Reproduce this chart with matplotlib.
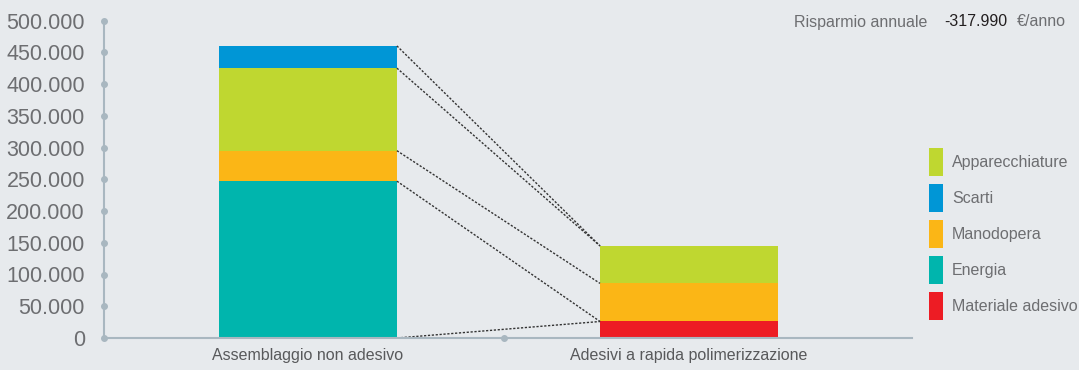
import numpy as np
import matplotlib.pyplot as plt
from matplotlib.patches import Patch
from matplotlib.ticker import FuncFormatter

# costs per category (EUR / year)
categories = ["Assemblaggio non adesivo", "Adesivi a rapida polimerizzazione"]
series = ["Materiale adesivo", "Energia", "Manodopera", "Apparecchiature", "Scarti"]
materiale = [0, 26000]
energia = [247000, 0]
manodopera = [48000, 60000]
apparecchiature = [130000, 59000]
scarti = [35000, 0]
legend_order = ["Apparecchiature", "Scarti", "Manodopera", "Energia", "Materiale adesivo"]
yticks = np.arange(0, 500001, 50000)
savings_text = "-317.990"

colors = {
    "Materiale adesivo": "#ed1c24",
    "Energia": "#00b5ad",
    "Manodopera": "#fbb616",
    "Apparecchiature": "#bfd730",
    "Scarti": "#0096d6",
}
bg = "#e7eaed"
axis_col = "#a9b7c0"
text_col = "#6d6e71"

plt.rcParams['font.family'] = ['Liberation Sans', 'DejaVu Sans']

fig = plt.figure(figsize=(10.79, 3.70), dpi=100, facecolor=bg)
ax = fig.add_axes([104 / 1079, 32 / 370, 808 / 1079, 317.5 / 370], facecolor=bg)

x = np.arange(len(categories))
width = 0.467
values = {"Materiale adesivo": materiale, "Energia": energia, "Manodopera": manodopera,
          "Apparecchiature": apparecchiature, "Scarti": scarti}
bottom = np.zeros(len(categories))
for name in series:
    v = np.array(values[name], dtype=float)
    ax.bar(x, v, width, bottom=bottom, color=colors[name], linewidth=0)
    bottom = bottom + v

# dotted connectors between the stacks
left_x = x[0] + width / 2
right_x = x[1] - width / 2
cum1 = np.cumsum([energia[0], manodopera[0], apparecchiature[0], scarti[0]])
cum2 = np.cumsum([materiale[1], manodopera[1], apparecchiature[1]])
pairs = [(0, cum2[0]), (cum1[0], cum2[0]), (cum1[1], cum2[1]), (cum1[2], cum2[2]), (cum1[3], cum2[2])]
for y1, y2 in pairs:
    ax.plot([left_x, right_x], [y1, y2], color="#333333", lw=1.0, ls=(0, (1.6, 1.2)))

xmin, xmax = -0.535, 1.585
ax.set_xlim(xmin, xmax)
ax.set_ylim(0, 500000)

for s in ["top", "right"]:
    ax.spines[s].set_visible(False)
for s in ["left", "bottom"]:
    ax.spines[s].set_color(axis_col)
    ax.spines[s].set_linewidth(1.5)

ax.set_yticks(yticks)
ax.yaxis.set_major_formatter(FuncFormatter(lambda v, p: f"{int(v):,}".replace(",", ".")))
ax.tick_params(axis="y", length=0, pad=13.7, labelsize=15.5, labelcolor=text_col)
ax.set_xticks(x)
ax.set_xticklabels(categories)
ax.tick_params(axis="x", length=0, pad=7, labelsize=11.5, labelcolor="#58595b")

# dot markers on the axes
ax.plot([xmin] * len(yticks), yticks, "o", ms=4, color=axis_col, clip_on=False, zorder=5)
ax.plot([(x[0] + x[1]) / 2 + 0.015], [0], "o", ms=4, color=axis_col, clip_on=False, zorder=5)

handles = [Patch(facecolor=colors[n], edgecolor="none") for n in legend_order]
leg = fig.legend(handles, legend_order, loc="upper left", bbox_to_anchor=(929 / 1079, 1 - 148 / 370),
                 frameon=False, fontsize=11.5, handlelength=0.875, handleheight=2.28,
                 labelspacing=0.53, handletextpad=0.56, borderpad=0, borderaxespad=0,
                 labelcolor=text_col)

fig.text(927 / 1079, 1 - 22 / 370, "Risparmio annuale", ha="right", va="center", fontsize=11.5, color=text_col)
fig.text(944 / 1079, 1 - 22 / 370, savings_text, ha="left", va="center", fontsize=11.5, color="#231f20")
fig.text(1066 / 1079, 1 - 22 / 370, "€/anno", ha="right", va="center", fontsize=11.5, color=text_col)

fig.savefig("out.png", dpi=100, facecolor=bg)
